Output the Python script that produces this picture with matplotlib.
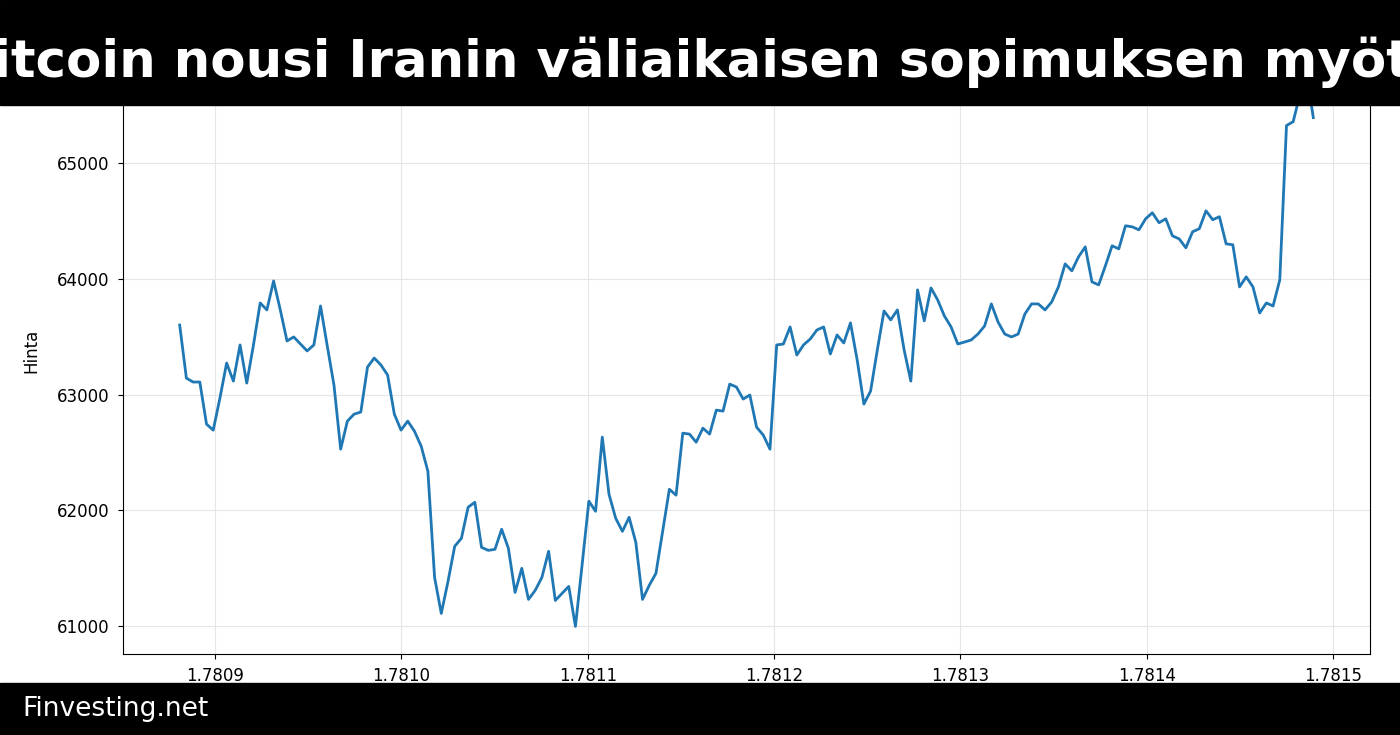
import numpy as np
import matplotlib.pyplot as plt
from matplotlib.patches import Rectangle

# Hinnat tunneittain (luettu kuvasta)
hinta = [63600, 63142, 63108, 63108, 62745, 62693, 62970, 63272, 63116, 63428,
         63099, 63428, 63790, 63730, 63980, 63730, 63462, 63497, 63436, 63376,
         63428, 63764, 63419, 63082, 62529, 62771, 62831, 62849, 63237, 63315,
         63255, 63168, 62831, 62693, 62771, 62684, 62555, 62339, 61423, 61112,
         61388, 61691, 61760, 62028, 62071, 61682, 61656, 61665, 61838, 61674,
         61293, 61501, 61233, 61311, 61423, 61648, 61224, 61285, 61345, 61000,
         61535, 62080, 61993, 62633, 62140, 61933, 61820, 61941, 61725, 61233,
         61354, 61458, 61820, 62183, 62132, 62667, 62659, 62589, 62710, 62659,
         62866, 62857, 63090, 63065, 62961, 62996, 62719, 62650, 62529, 63428,
         63436, 63583, 63341, 63428, 63479, 63557, 63583, 63350, 63514, 63445,
         63618, 63298, 62918, 63030, 63384, 63721, 63644, 63730, 63384, 63116,
         63903, 63635, 63920, 63816, 63678, 63583, 63436, 63453, 63471, 63522,
         63592, 63782, 63626, 63522, 63497, 63522, 63695, 63782, 63782, 63730,
         63799, 63929, 64127, 64067, 64188, 64274, 63972, 63946, 64110, 64283,
         64257, 64456, 64447, 64421, 64516, 64568, 64482, 64516, 64369, 64343,
         64266, 64404, 64430, 64585, 64508, 64534, 64300, 64292, 63929, 64015,
         63929, 63704, 63790, 63764, 63989, 65320, 65354, 65588, 65760, 65389]
alku = 1780881000
aika = alku + 3600 * np.arange(len(hinta))

fig = plt.figure(figsize=(14, 7.35), dpi=100)
ax = fig.add_axes([123 / 1400, 1 - 654 / 735, (1370 - 123) / 1400, (654 - 47) / 735])
ax.plot(aika, hinta, color="#1f77b4", linewidth=2)
ax.set_ylabel("Hinta", fontsize=12, labelpad=12)
ax.tick_params(labelsize=12, pad=6)
ax.grid(True, color="#e6e6e6", linewidth=0.8)
ax.set_yticks([61000, 62000, 63000, 64000, 65000])

# otsikko- ja alapalkki
fig.patches.append(Rectangle((0, 1 - 105 / 735), 1, 105 / 735, transform=fig.transFigure,
                             color="black", zorder=10))
fig.patches.append(Rectangle((0, 0), 1, 52 / 735, transform=fig.transFigure,
                             color="black", zorder=10))
fig.text(0.5, 1 - 62 / 735, "Bitcoin nousi Iranin väliaikaisen sopimuksen myötä",
         color="white", fontsize=37, fontweight="bold", ha="center", va="center", zorder=11)
fig.text(22 / 1400, 26 / 735, "Finvesting.net", color="white", fontsize=19,
         ha="left", va="center", zorder=11)

fig.savefig("out.png", dpi=100)
